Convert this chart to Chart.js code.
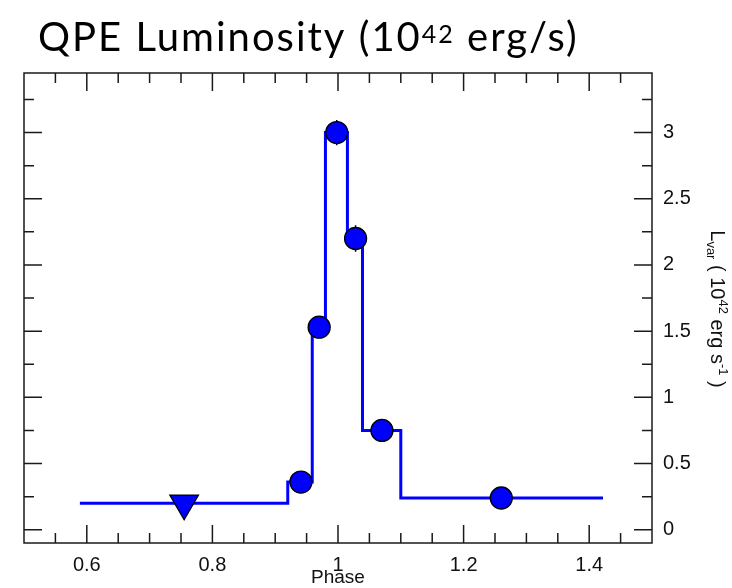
<!DOCTYPE html>
<html>
<head>
<meta charset="utf-8">
<script src="https://cdn.jsdelivr.net/npm/chart.js@4.4.1/dist/chart.umd.min.js"></script>
<style>
  html, body { margin: 0; padding: 0; background: #ffffff; }
  #wrap { width: 732px; height: 588px; position: relative; }
</style>
</head>
<body>
<div id="wrap"><canvas id="c" width="732" height="588"></canvas></div>
<script>
// Binned light curve: bin edges (phase) and luminosity per bin (1e42 erg/s)
const binEdges  = [0.589, 0.92, 0.959, 0.98, 1.015, 1.039, 1.10, 1.422];
const binValues = [0.20, 0.36, 1.53, 3.00, 2.20, 0.75, 0.24];

// Measured points: phase, luminosity, 1-sigma error, upper-limit flag
const pointPhase = [0.755, 0.941, 0.970, 0.998, 1.028, 1.070, 1.260];
const pointLum   = [0.20, 0.36, 1.53, 3.00, 2.20, 0.75, 0.24];
const pointErr   = [0.00, 0.03, 0.06, 0.095, 0.10, 0.04, 0.03];
const isUpperLim = [true, false, false, false, false, false, false];

// Axis ticks
const xMajorTicks = [0.6, 0.8, 1.0, 1.2, 1.4];
const yMajorTicks = [0, 0.5, 1, 1.5, 2, 2.5, 3];
const xRange = [0.5, 1.5];
const yRange = [-0.1, 3.45];
const xMinorStep = 0.05;
const yMinorStep = 0.25;

const titleText = ["QPE Luminosity (10", "42", " erg/s)"];
const xAxisTitle = "Phase";

const BLUE = '#0000ff';

const stepData = binValues.map((v, i) => ({ x: binEdges[i], y: v }));
stepData.push({ x: binEdges[binEdges.length - 1], y: binValues[binValues.length - 1] });

const pointData = pointPhase.map((p, i) => ({ x: p, y: pointLum[i] }));

// Frame, inward ticks on all four sides, error bars and titles
const framePlugin = {
  id: 'frame',
  beforeDatasetsDraw(chart) {
    const { ctx, chartArea: a, scales } = chart;
    const xs = scales.x, ys = scales.y;
    ctx.save();
    ctx.strokeStyle = '#1a1a1a';
    ctx.lineWidth = 1.5;
    ctx.strokeRect(a.left, a.top, a.right - a.left, a.bottom - a.top);
    const majLen = 18, minLen = 10;
    const isMajor = (v, list) => list.some(t => Math.abs(t - v) < 1e-6);
    ctx.beginPath();
    for (let v = xRange[0] + xMinorStep; v < xRange[1] - 1e-6; v += xMinorStep) {
      const vv = Math.round(v * 1000) / 1000;
      const px = xs.getPixelForValue(vv);
      const len = isMajor(vv, xMajorTicks) ? majLen : minLen;
      ctx.moveTo(px, a.bottom); ctx.lineTo(px, a.bottom - len);
      ctx.moveTo(px, a.top); ctx.lineTo(px, a.top + len);
    }
    for (let v = 0; v < yRange[1]; v += yMinorStep) {
      const py = ys.getPixelForValue(v);
      const len = isMajor(v, yMajorTicks) ? majLen : minLen;
      ctx.moveTo(a.left, py); ctx.lineTo(a.left + len, py);
      ctx.moveTo(a.right, py); ctx.lineTo(a.right - len, py);
    }
    ctx.stroke();
    ctx.restore();
  },
  afterDatasetDraw(chart, args) {
    if (args.meta.type !== 'line') return;
    // error bars sit between the step line and the markers
    const { ctx, scales } = chart;
    ctx.save();
    ctx.strokeStyle = '#000000';
    ctx.lineWidth = 1.5;
    ctx.beginPath();
    pointPhase.forEach((p, i) => {
      if (isUpperLim[i] || pointErr[i] <= 0) return;
      const px = scales.x.getPixelForValue(p);
      ctx.moveTo(px, scales.y.getPixelForValue(pointLum[i] - pointErr[i]));
      ctx.lineTo(px, scales.y.getPixelForValue(pointLum[i] + pointErr[i]));
    });
    ctx.stroke();
    ctx.restore();
  },
  afterDraw(chart) {
    const { ctx, chartArea: a } = chart;
    ctx.save();
    // chart title with superscript exponent
    ctx.fillStyle = '#000000';
    ctx.textBaseline = 'alphabetic';
    ctx.textAlign = 'left';
    ctx.letterSpacing = '2px';
    let x = 38;
    const base = 51;
    ctx.font = '400 40px Lato';
    ctx.fillText(titleText[0], x, base);
    x += ctx.measureText(titleText[0]).width;
    ctx.font = '400 25px Lato';
    ctx.fillText(titleText[1], x, base - 8);
    x += ctx.measureText(titleText[1]).width;
    ctx.font = '400 40px Lato';
    ctx.fillText(titleText[2], x, base);
    ctx.letterSpacing = '0px';

    // x-axis title
    ctx.font = '19px "Liberation Sans"';
    ctx.textAlign = 'center';
    ctx.fillStyle = '#111111';
    ctx.fillText(xAxisTitle, (a.left + a.right) / 2, 583);

    // right y-axis title, rotated clockwise
    const parts = [
      ['L', 20, 0], ['var', 13, 4], [' ( 10', 20, 0], ['42', 13, -8],
      [' erg s', 20, 0], ['-1', 13, -8], [' )', 20, 0]
    ];
    ctx.textAlign = 'left';
    let total = 0;
    parts.forEach(p => { ctx.font = p[1] + 'px "Liberation Sans"'; total += ctx.measureText(p[0]).width; });
    ctx.translate(711, 309);
    ctx.rotate(Math.PI / 2);
    let tx = -total / 2;
    parts.forEach(p => {
      ctx.font = p[1] + 'px "Liberation Sans"';
      ctx.fillText(p[0], tx, p[2]);
      tx += ctx.measureText(p[0]).width;
    });
    ctx.restore();
  }
};

new Chart(document.getElementById('c'), {
  data: {
    datasets: [
      {
        type: 'line',
        order: 2,
        data: stepData,
        stepped: 'before',
        borderColor: BLUE,
        borderWidth: 3,
        pointRadius: 0,
        fill: false
      },
      {
        type: 'scatter',
        order: 1,
        data: pointData,
        pointStyle: isUpperLim.map(u => u ? 'triangle' : 'circle'),
        rotation: isUpperLim.map(u => u ? 180 : 0),
        radius: isUpperLim.map(u => u ? 16.5 : 11),
        backgroundColor: BLUE,
        borderColor: '#000000',
        borderWidth: 1.3
      }
    ]
  },
  options: {
    responsive: false,
    animation: false,
    layout: { padding: { left: 24, top: 73, right: 0, bottom: 0 } },
    plugins: { legend: { display: false }, tooltip: { enabled: false } },
    scales: {
      x: {
        type: 'linear',
        position: 'bottom',
        min: xRange[0], max: xRange[1],
        grid: { display: false, drawTicks: false },
        border: { display: false },
        afterBuildTicks: s => { s.ticks = xMajorTicks.map(v => ({ value: v })); },
        afterFit: s => { s.height = 45; },
        ticks: {
          padding: 10,
          color: '#111111',
          font: { family: '"Liberation Sans"', size: 20 },
          maxRotation: 0,
          callback: v => String(v)
        }
      },
      y: {
        type: 'linear',
        position: 'right',
        min: yRange[0], max: yRange[1],
        grid: { display: false, drawTicks: false },
        border: { display: false },
        afterBuildTicks: s => { s.ticks = yMajorTicks.map(v => ({ value: v })); },
        afterFit: s => { s.width = 80; },
        ticks: {
          padding: 11,
          color: '#111111',
          font: { family: '"Liberation Sans"', size: 20 },
          callback: v => String(v)
        }
      }
    }
  },
  plugins: [framePlugin]
});
</script>
</body>
</html>
